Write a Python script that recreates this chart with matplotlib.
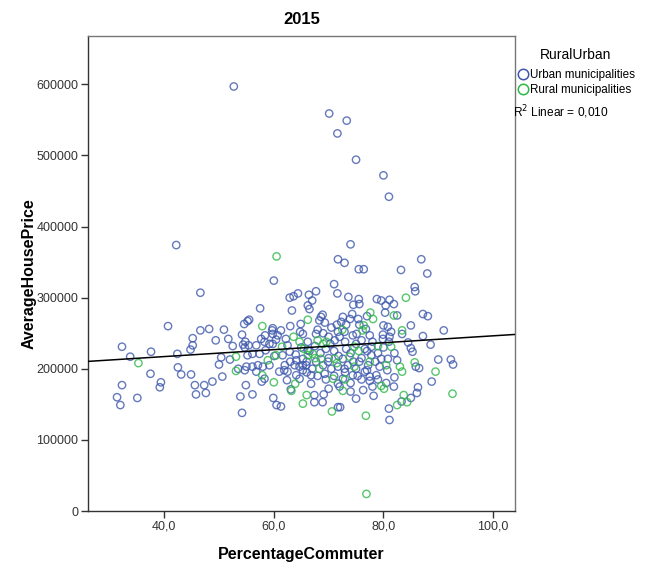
import matplotlib
matplotlib.use("Agg")
import matplotlib.pyplot as plt
from matplotlib.lines import Line2D
from matplotlib.ticker import FuncFormatter, FixedLocator
import numpy as np

plt.rcParams['font.family'] = ['Liberation Sans', 'DejaVu Sans']

title = "2015"
x_label = "PercentageCommuter"
y_label = "AverageHousePrice"
legend_title = "RuralUrban"
series_names = ["Urban municipalities", "Rural municipalities"]
fit_text = "R$^2$ Linear = 0,010"

# (PercentageCommuter, AverageHousePrice in thousands)
urban = [
    (52.7,597),(70.1,559),(73.3,549),(71.6,531),(75.0,494),(80.0,472),(81.0,442),
    (42.2,374),(46.6,307),(40.7,260),(32.3,231),(33.8,217),(37.6,224),(37.5,193),(32.3,177),
    (31.4,160),(32.0,149),(35.1,159),(39.4,181),(39.2,174),(42.4,221),(42.5,202),(43.1,192),
    (44.9,192),(45.6,177),(45.8,164),(47.3,177),(47.6,166),(48.8,182),(50.6,189),(44.8,227),
    (45.2,233),(45.2,243),(46.6,254),(48.2,256),(49.4,240),(50.9,255),(51.7,242),(52.5,232),
    (50.4,216),(50.0,206),(52.0,213),(54.2,248),(54.6,263),(55.2,267),(54.4,234),(54.7,230),
    (54.9,177),(53.9,161),(54.2,138),(53.5,200),(54.7,198),(55.0,203),
    (60.0,324),(57.5,285),(56.1,164),(59.9,159),(60.5,149),(61.3,147),(57.8,182),(56.8,196),
    (56.1,203),(62.4,184),(63.1,171),(62.9,300),(63.6,302),(64.4,306),(63.3,282),(61.3,254),
    (59.7,254),(63.0,260),(64.8,252),
    (58.4,247),(60.4,241),(59.2,235),(58.5,226),(61.6,219),(62.5,233),(62.9,224),(60.1,218),
    (59.2,205),(58.0,203),(61.0,196),(61.9,198),(63.8,205),(64.7,203),(65.3,214),(66.2,226),
    (64.1,191),(54.8,238),(55.4,233),(56.8,233),(57.7,242),(55.2,219),(56.1,221),(57.1,205),
    (66.4,304),(67.7,309),(67.0,296),(66.2,289),(66.5,284),(68.6,273),(68.9,276),(64.9,263),
    (68.3,268),(69.3,265),(59.8,257),(55.5,269),
    (74.0,375),(71.7,354),(72.9,349),(75.5,340),(76.4,340),(86.9,354),(88.0,334),(83.2,339),
    (85.7,315),(85.8,309),(87.2,277),(91.0,254),(71.0,319),(71.6,306),(73.6,301),(75.5,298),
    (75.6,291),(78.8,298),(79.6,296),(81.1,297),(81.9,291),(80.4,289),(80.3,279),(82.5,275),
    (77.0,274),(74.5,290),(72.6,273),(72.3,266),(73.9,270),(75.4,270),(75.1,249),(76.8,256),
    (80.0,261),(80.8,259),(79.9,248),(81.1,245),(83.4,249),(85.0,261),(87.2,246),(88.6,234),
    (84.5,237),(85.0,229),(85.3,224),(85.9,203),(86.5,201),(90.0,213),(92.3,213),(92.7,206),
    (88.8,182),(86.1,166),(83.3,154),(85.0,159),(81.0,144),(81.1,128),(71.7,146),(72.1,146),
    (75.0,158),(78.2,162),(81.9,175),(82.0,188),(80.7,198),(67.4,153),(69.1,164),(74.0,168),
    (76.3,170),(77.5,183),(75.3,190),(78.7,191),(74.3,277),(73.2,262),(75.6,262),(88.1,274),
    (58.3,238),(59.8,249),(59.8,235),(60.7,247),(62.2,242),(65.3,249),(66.2,238),(67.7,249),
    (71.1,240),(71.7,252),(57.4,221),(64.1,212),(65.3,205),(67.7,210),(69.9,210),(58.3,186),
    (62.5,196),(65.3,198),(65.9,205),(66.8,191),(69.3,193),(70.5,200),(71.7,203),(64.7,186),
    (66.8,179),(71.7,179),(67.4,163),(68.9,153),
    (72.9,252),(74.4,247),(77.5,247),(79.9,242),(81.4,252),(73.2,228),(76.6,228),(77.8,231),
    (72.6,214),(75.6,210),(77.8,219),(79.6,214),(80.8,214),(72.9,200),(77.2,205),(79.3,203),
    (72.6,186),(74.4,191),(76.6,196),(77.5,189),(86.3,174),
    (65.0,230),(66.5,225),(67.5,232),(68.5,222),(69.5,228),(70.3,235),(71.0,225),(71.8,218),
    (70.0,245),(68.0,255),(69.0,250),(70.5,258),(71.5,262),(72.0,245),(73.0,238),(74.0,222),
    (75.0,235),(76.0,240),(77.0,225),(78.0,238),(78.5,210),(79.0,222),(80.0,230),(81.0,238),
    (82.0,222),(82.5,212),(76.0,215),(74.5,210),(73.5,205),(70.0,215),(69.0,205),(67.0,200),
    (66.0,210),(64.0,220),(63.0,210),(62.0,205),(73.0,195),(75.0,200),(77.0,198),(79.0,185),
    (80.5,180),(71.0,190),(69.5,185),(68.0,190),(66.0,195),(74.0,180),(76.0,185),(72.0,175),
    (78.0,175),(70.0,172),
]

rural = [
    (35.3,208),(53.1,217),(53.1,197),
    (60.5,358),(57.9,260),(60.0,181),(57.9,191),(63.2,169),(63.9,179),(65.3,151),(66.0,163),
    (63.6,245),(61.5,231),(64.7,238),
    (66.2,269),
    (84.1,300),(81.9,275),(77.6,279),(78.1,270),(76.4,261),(83.4,254),(85.7,209),(89.5,196),
    (92.6,165),(84.3,153),(83.7,163),(82.5,149),(76.8,134),(70.6,140),(79.6,176),(80.1,172),
    (83.4,196),(83.0,203),(72.6,169),
    (68.0,240),(69.6,238),(58.9,212),(60.4,219),(66.2,219),(67.1,221),(68.6,214),(71.1,214),
    (68.3,200),(70.8,186),
    (76.2,254),(74.7,231),(81.4,231),(73.8,217),(74.7,203),
    (69.0,235),(72.5,255),(75.5,225),(79.0,232),(67.5,215),(73.0,185),(77.5,210),(80.5,205),
    (65.5,228),(71.5,208),
    (76.9,24),
]

# linear fit
fit_intercept = 197700.0
fit_slope = 486.5

x_ticks = [40, 60, 80, 100]
y_ticks = [0, 100000, 200000, 300000, 400000, 500000, 600000]
x_lim = (26.1, 104.0)
y_lim = (0, 668000)

urban_color = "#3E58AC"
rural_color = "#2EB848"

fig = plt.figure(figsize=(6.56, 5.65), dpi=100)
ax = fig.add_axes([88/656, 1-511/565, (515-88)/656, (511-36)/565])

ux = np.array([p[0] for p in urban]); uy = np.array([p[1] for p in urban]) * 1000
rx = np.array([p[0] for p in rural]); ry = np.array([p[1] for p in rural]) * 1000

ax.scatter(ux, uy, s=28, facecolors='none', edgecolors=urban_color, linewidths=1.0, alpha=0.8, zorder=3)
ax.scatter(rx, ry, s=28, facecolors='none', edgecolors=rural_color, linewidths=1.0, alpha=0.8, zorder=3)

xs = np.array(x_lim)
ax.plot(xs, fit_intercept + fit_slope * xs, color='black', lw=1.1, zorder=4)

ax.set_xlim(*x_lim)
ax.set_ylim(*y_lim)
ax.xaxis.set_major_locator(FixedLocator(x_ticks))
ax.yaxis.set_major_locator(FixedLocator(y_ticks))
ax.xaxis.set_major_formatter(FuncFormatter(lambda v, p: f"{v:.1f}".replace('.', ',')))
ax.yaxis.set_major_formatter(FuncFormatter(lambda v, p: f"{int(v)}"))
ax.tick_params(axis='both', direction='out', length=5, width=1, color='#333333',
               labelsize=9, labelcolor='#333333', pad=2)
ax.tick_params(top=False, right=False)
for side in ['left', 'bottom']:
    ax.spines[side].set_color('#333333')
    ax.spines[side].set_linewidth(1.0)
for side in ['top', 'right']:
    ax.spines[side].set_color('#777777')
    ax.spines[side].set_linewidth(1.0)

ax.set_title(title, fontsize=12, fontweight='bold', pad=9)
ax.set_xlabel(x_label, fontsize=11.5, fontweight='bold', labelpad=10)
ax.set_ylabel(y_label, fontsize=11.5, fontweight='bold', labelpad=0)

handles = [
    Line2D([], [], ls='none', marker='o', markersize=7.5, markerfacecolor='none',
           markeredgecolor=urban_color, markeredgewidth=1.1),
    Line2D([], [], ls='none', marker='o', markersize=7.5, markerfacecolor='none',
           markeredgecolor=rural_color, markeredgewidth=1.1),
]
leg = fig.legend(handles, series_names, title=legend_title, loc='upper left',
                 bbox_to_anchor=(512/656, 1-43/565), frameon=False, fontsize=8.4,
                 title_fontsize=10, handletextpad=0.15, handlelength=1.0,
                 borderaxespad=0, labelspacing=0.3)
leg._legend_box.align = "center"
leg._legend_box.sep = 5
fig.text(513/656, 1-112/565, fit_text, fontsize=8.6, va='center', ha='left')

fig.savefig("out.png", dpi=100)
